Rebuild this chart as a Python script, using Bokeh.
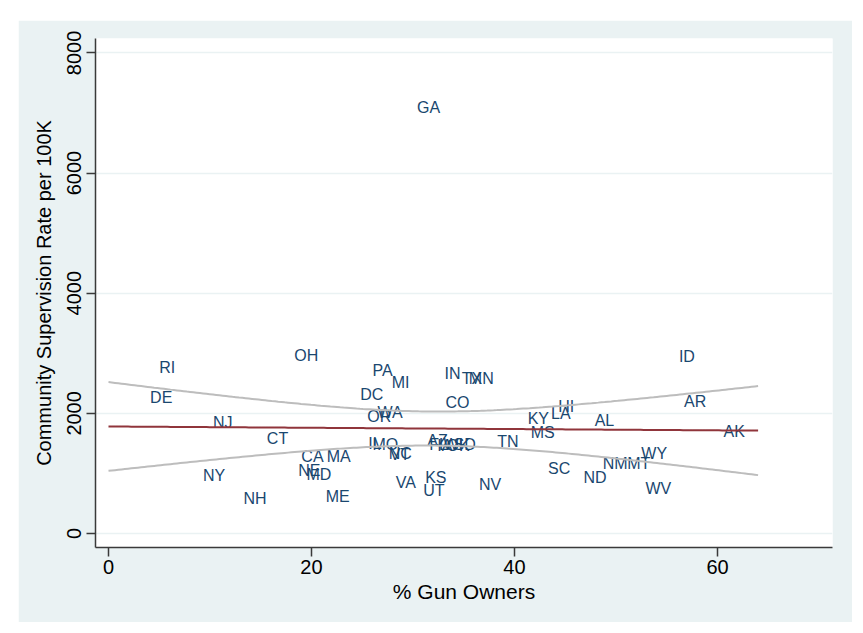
import numpy as np
from bokeh.plotting import figure
from bokeh.models import ColumnDataSource, Range1d, Spacer, FixedTicker
from bokeh.layouts import row, column
from bokeh.core.properties import value
from bokeh.embed import file_html
from bokeh.resources import INLINE

states = ["GA", "RI", "DE", "NJ", "NY", "NH", "CT", "OH", "CA", "MA", "NE", "MD", "ME",
          "DC", "PA", "MI", "WA", "OR", "CO", "IN", "TX", "MN", "IL", "MO", "NC", "VT",
          "AZ", "FL", "IA", "WI", "OK", "SD", "KS", "UT", "VA", "NV", "TN", "KY", "MS",
          "LA", "HI", "AL", "SC", "ND", "NM", "MT", "WY", "WV", "AR", "ID", "AK"]
gun_pct = [30.4, 5.0, 4.1, 10.3, 9.3, 13.3, 15.6, 18.3, 19.0, 21.5, 18.7, 19.5, 21.4,
           24.8, 26.0, 27.9, 26.5, 25.5, 33.2, 33.1, 34.8, 35.5, 25.6, 26.0, 27.6, 27.7,
           31.4, 31.6, 32.4, 33.0, 33.3, 34.0, 31.2, 31.0, 28.3, 36.5, 38.3, 41.3, 41.6,
           43.6, 44.3, 47.9, 43.3, 46.8, 48.7, 51.1, 52.5, 52.9, 56.7, 56.2, 60.6]
supervision_rate = [7100, 2767, 2267, 1850, 967, 583, 1583, 2967, 1283, 1283, 1050, 990, 617,
                    2317, 2717, 2517, 2017, 1950, 2183, 2667, 2583, 2583, 1500, 1483, 1333, 1310,
                    1550, 1480, 1470, 1480, 1460, 1475, 933, 717, 850, 817, 1533, 1917, 1683,
                    2000, 2117, 1883, 1083, 933, 1167, 1167, 1333, 750, 2200, 2950, 1700]

x_ticks = [0, 20, 40, 60]
y_ticks = [0, 2000, 4000, 6000, 8000]
fit_range = [0, 64]

# linear fit with 95% CI of the mean prediction
xa = np.array(gun_pct, dtype=float)
ya = np.array(supervision_rate, dtype=float)
n = len(xa)
b1, b0 = np.polyfit(xa, ya, 1)
resid = ya - (b0 + b1 * xa)
s = np.sqrt(np.sum(resid ** 2) / (n - 2))
sxx = np.sum((xa - xa.mean()) ** 2)
t_crit = 2.0096
xf = np.linspace(fit_range[0], fit_range[1], 200)
yf = b0 + b1 * xf
se = s * np.sqrt(1.0 / n + (xf - xa.mean()) ** 2 / sxx)
upper = yf + t_crit * se
lower = yf - t_crit * se

BG = "#EAF2F3"
NAVY = "#1A476F"
FONT = "Liberation Sans"

p = figure(width=834, height=602, output_backend="svg", toolbar_location=None,
           x_range=Range1d(-1.28, 71.33), y_range=Range1d(-233, 8241),
           min_border_left=77, min_border_right=20, min_border_top=18, min_border_bottom=75,
           background_fill_color="white", border_fill_color=BG)
p.outline_line_color = None

src = ColumnDataSource(dict(x=gun_pct, y=supervision_rate, t=states))
p.text(x="x", y="y", text="t", source=src, text_align="left", text_baseline="middle",
       text_font=value(FONT), text_font_size="16px", text_color=NAVY)

p.line(xf, upper, line_color="#BDBDBD", line_width=2)
p.line(xf, lower, line_color="#BDBDBD", line_width=2)
p.line(xf, yf, line_color="#90353B", line_width=2)

p.xgrid.visible = False
p.ygrid.grid_line_color = BG
p.ygrid.grid_line_width = 1.5
p.ygrid.ticker = FixedTicker(ticks=y_ticks)

for ax in (p.xaxis[0], p.yaxis[0]):
    ax.axis_line_color = "#3A3A3A"
    ax.axis_line_width = 1.5
    ax.major_tick_line_color = "#3A3A3A"
    ax.major_tick_line_width = 1.5
    ax.major_tick_out = 9
    ax.major_tick_in = 0
    ax.minor_tick_line_color = None
    ax.major_label_text_font = FONT
    ax.major_label_text_font_size = "20px"
    ax.major_label_text_color = "black"
    ax.axis_label_text_font = FONT
    ax.axis_label_text_font_size = "20px"
    ax.axis_label_text_font_style = "normal"
    ax.axis_label_text_color = "black"

p.xaxis.ticker = FixedTicker(ticks=x_ticks)
p.yaxis.ticker = FixedTicker(ticks=y_ticks)
p.xaxis.axis_label = "% Gun Owners"
p.xaxis.axis_label_text_font_size = "21px"
p.yaxis.axis_label = "Community Supervision Rate per 100K"
p.xaxis.major_label_standoff = 3
p.xaxis.axis_label_standoff = 3
p.yaxis.major_label_orientation = "vertical"
p.yaxis.major_label_standoff = 5
p.yaxis.axis_label_standoff = 10

layout = row(Spacer(width=18), column(Spacer(height=20), p))
open("out.html", "w").write(file_html(layout, INLINE))
